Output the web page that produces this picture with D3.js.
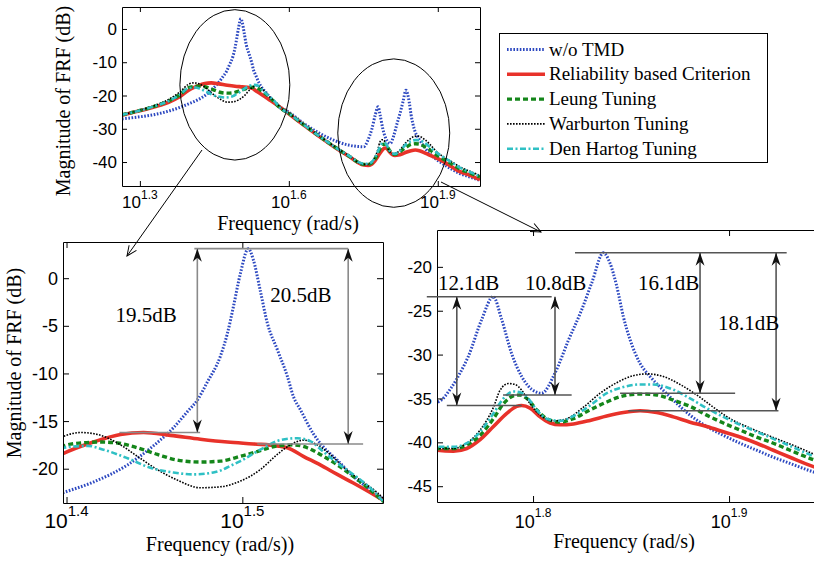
<!DOCTYPE html>
<html>
<head>
<meta charset="utf-8">
<script src="https://cdn.jsdelivr.net/npm/d3@7"></script>
<style>
  html, body { margin: 0; padding: 0; background: #fff; }
  svg { display: block; }
</style>
</head>
<body>
<svg id="chart" width="814" height="561"></svg>
<script>
// values: [log10(frequency in rad/s), magnitude dB]
var woTMD = [
  [1.264,-27.0],[1.30,-26.4],[1.33,-25.7],[1.36,-24.6],[1.38,-23.6],
  [1.3983,-22.5],[1.4153,-21.4],[1.4347,-19.6],[1.4494,-17.6],[1.4608,-15.7],[1.4688,-14.0],
  [1.4744,-12.8],[1.4801,-10.9],[1.4875,-8.2],[1.4915,-5.8],[1.4949,-3.0],[1.4989,0.5],
  [1.5034,3.1],[1.5063,1.9],[1.5102,-1.3],[1.5142,-4.7],[1.5199,-7.5],[1.5256,-10.3],
  [1.529,-12.4],[1.533,-13.8],[1.5403,-16.3],[1.546,-17.7],[1.554,-19.1],[1.5631,-20.8],
  [1.5727,-22.2],[1.5801,-23.2],
  [1.60,-25.0],[1.63,-28.4],[1.66,-31.2],[1.69,-33.4],[1.72,-34.9],[1.7509,-35.4],
  [1.7585,-33.7],[1.763,-32.0],[1.767,-30.2],[1.7738,-26.0],[1.7797,-23.4],[1.784,-26.0],
  [1.7891,-29.9],[1.7942,-32.5],[1.801,-34.2],[1.8044,-34.4],[1.8112,-32.1],[1.818,-28.4],
  [1.8248,-24.9],[1.830,-21.8],[1.8359,-18.4],[1.8393,-19.6],[1.8427,-22.2],[1.8461,-25.7],
  [1.8495,-28.3],[1.8546,-31.0],[1.8597,-32.5],[1.8648,-33.7],[1.8716,-35.2],[1.8801,-36.9],
  [1.8886,-38.2],[1.8971,-39.2],[1.9056,-40.1],[1.9141,-40.9],[1.9226,-41.7],[1.9311,-42.4],
  [1.9434,-43.4],[1.965,-44.5],[1.985,-45.5]
];
var reliability = [
  [1.264,-25.9],[1.30,-24.6],[1.33,-23.4],[1.36,-21.9],[1.38,-20.4],
  [1.3983,-18.4],[1.4153,-17.2],[1.4307,-16.4],[1.4438,-16.2],[1.4591,-16.5],[1.4761,-16.9],
  [1.4915,-17.2],[1.5063,-17.4],[1.5199,-17.6],[1.5256,-17.8],[1.5347,-18.7],[1.5443,-19.6],
  [1.554,-20.6],[1.5631,-21.5],[1.5727,-22.5],[1.5801,-23.3],
  [1.60,-25.5],[1.63,-28.9],[1.66,-32.2],[1.69,-35.3],[1.72,-38.2],
  [1.7509,-40.9],[1.7594,-41.0],[1.7662,-40.7],[1.7730,-39.7],[1.7798,-38.2],[1.7866,-36.7],
  [1.7917,-35.9],[1.7942,-35.8],[1.7985,-36.1],[1.8036,-37.1],[1.8087,-37.8],[1.8138,-38.0],
  [1.8206,-37.9],[1.8291,-37.5],[1.8376,-37.0],[1.8461,-36.6],[1.8546,-36.4],[1.8631,-36.6],
  [1.8716,-37.1],[1.8801,-37.7],[1.8886,-38.2],[1.8971,-38.8],[1.9056,-39.4],[1.9141,-40.1],
  [1.9226,-40.9],[1.9311,-41.7],[1.9434,-42.8],[1.965,-44.0],[1.985,-45.3]
];
var leung = [
  [1.264,-25.8],[1.30,-24.5],[1.33,-23.2],[1.36,-21.5],[1.38,-19.8],
  [1.3983,-17.6],[1.408,-17.3],[1.4193,-17.2],[1.429,-17.3],[1.4403,-17.8],[1.4517,-18.5],
  [1.4631,-19.1],[1.4761,-19.3],[1.4875,-19.2],[1.4989,-18.7],[1.5102,-18.1],[1.5199,-17.6],
  [1.529,-17.5],[1.5369,-17.8],[1.5443,-18.5],[1.554,-19.6],[1.5631,-20.8],[1.5727,-22.2],
  [1.5801,-23.4],
  [1.60,-25.4],[1.63,-28.8],[1.66,-32.1],[1.69,-35.2],[1.72,-38.1],
  [1.7509,-40.7],[1.7594,-40.7],[1.7662,-40.3],[1.7730,-39.2],[1.7798,-37.3],[1.7849,-35.6],
  [1.7900,-34.7],[1.7934,-34.6],[1.7968,-35.0],[1.8019,-36.3],[1.8070,-37.3],[1.8138,-37.7],
  [1.8206,-37.3],[1.8291,-36.3],[1.8376,-35.4],[1.8461,-34.7],[1.8546,-34.5],[1.8631,-34.6],
  [1.8716,-35.2],[1.8801,-35.9],[1.8886,-36.9],[1.8971,-37.8],[1.9056,-38.6],[1.9141,-39.4],
  [1.9226,-40.1],[1.9311,-40.9],[1.9434,-42.0],[1.965,-43.3],[1.985,-44.5]
];
var warburton = [
  [1.264,-25.8],[1.30,-24.4],[1.33,-23.0],[1.36,-21.0],[1.38,-19.0],
  [1.3983,-16.6],[1.408,-16.2],[1.4176,-16.4],[1.429,-17.3],[1.4403,-18.7],[1.4517,-20.1],
  [1.4631,-21.2],[1.4761,-22.0],[1.4875,-21.9],[1.4989,-21.3],[1.5102,-20.1],[1.5199,-18.5],
  [1.5273,-17.5],[1.5347,-17.0],[1.5426,-17.5],[1.55,-18.5],[1.5574,-19.8],[1.567,-21.2],
  [1.5767,-22.5],[1.5801,-23.1],
  [1.60,-25.3],[1.63,-28.7],[1.66,-32.0],[1.69,-35.1],[1.72,-38.0],
  [1.7509,-40.7],[1.7594,-40.7],[1.7662,-40.1],[1.7730,-38.6],[1.7798,-36.0],[1.7832,-34.05],
  [1.7874,-33.3],[1.7908,-33.4],[1.7942,-34.05],[1.7985,-35.6],[1.8036,-36.9],[1.8104,-37.55],
  [1.8172,-37.3],[1.8257,-36.0],[1.8342,-34.4],[1.8427,-33.2],[1.8512,-32.4],[1.8580,-32.2],
  [1.8665,-32.5],[1.8750,-33.4],[1.8835,-34.6],[1.8920,-36.0],[1.9005,-37.3],[1.9090,-38.2],
  [1.9175,-39.0],[1.9260,-39.75],[1.9345,-40.5],[1.9434,-41.35],[1.965,-42.8],[1.985,-44.0]
];
var denHartog = [
  [1.264,-25.8],[1.30,-24.5],[1.33,-23.2],[1.36,-21.5],[1.38,-19.8],
  [1.3983,-17.8],[1.412,-17.6],[1.421,-18.0],[1.4347,-18.9],[1.4477,-19.9],[1.4608,-20.4],
  [1.4722,-20.6],[1.4835,-20.4],[1.4875,-20.2],[1.4932,-19.7],[1.4989,-19.2],[1.5102,-18.0],
  [1.5216,-17.0],[1.5313,-16.8],[1.5386,-17.1],[1.546,-18.2],[1.554,-19.4],[1.5631,-20.6],
  [1.5727,-22.0],[1.5801,-23.4],
  [1.60,-25.4],[1.63,-28.8],[1.66,-32.1],[1.69,-35.2],[1.72,-38.0],
  [1.7509,-40.5],[1.7594,-40.5],[1.7662,-40.1],[1.7730,-38.8],[1.7798,-36.7],[1.7849,-35.0],
  [1.7900,-34.2],[1.7934,-34.3],[1.7968,-34.8],[1.8019,-36.3],[1.8070,-37.3],[1.8138,-37.55],
  [1.8206,-37.0],[1.8291,-35.8],[1.8376,-34.4],[1.8461,-33.7],[1.8546,-33.4],[1.8614,-33.4],
  [1.8716,-34.0],[1.8801,-35.0],[1.8886,-36.1],[1.8971,-37.1],[1.9056,-38.0],[1.9141,-38.8],
  [1.9226,-39.6],[1.9311,-40.4],[1.9434,-41.6],[1.965,-43.0],[1.985,-44.3]
];
var seriesNames = ['w/o TMD', 'Reliability based Criterion', 'Leung Tuning', 'Warburton Tuning', 'Den Hartog Tuning'];
var seriesValues = [woTMD, reliability, leung, warburton, denHartog];

// annotations of the two zoomed views, in data units (log10 w, dB)
var leftRefLines = [[1.4727, 1.5602, 3.1], [1.4301, 1.4760, -16.2], [1.5085, 1.5687, -17.4]];
var leftArrows = [[1.4744, 3.1, -16.2], [1.5602, 3.1, -17.4]];
var leftLabels = [['19.5dB', 1.4278, -4.6], ['20.5dB', 1.5159, -2.5]];
var rightRefLines = [[1.7458, 1.8095, -23.4], [1.7560, 1.7942, -35.8], [1.7847, 1.8197, -34.6],
                     [1.8214, 1.9294, -18.4], [1.8444, 1.9031, -34.4], [1.8486, 1.9252, -36.4]];
var rightArrows = [[1.7611, -23.4, -35.8], [1.8112, -23.4, -34.6], [1.8852, -18.4, -34.4], [1.9240, -18.4, -36.4]];
var rightLabels = [['12.1dB', 1.7515, -22.6], ['10.8dB', 1.7959, -22.6], ['16.1dB', 1.8536, -22.6], ['18.1dB', 1.8944, -27.2]];
// zoom windows marked on the overview: [centre log10 w, centre dB, half width (decades), half height (dB)]
var zoomWindows = [[1.4913, -16.8, 0.1107, 22.6], [1.8113, -31.3, 0.1127, 22.3]];

var styles = [
  { color: '#2c48c0', width: 3, dash: '1.6,1.6' },
  { color: '#e8322a', width: 3.6, dash: null },
  { color: '#14861a', width: 3.4, dash: '5,3' },
  { color: '#000000', width: 1.6, dash: '1.6,1.4' },
  { color: '#2fc0c4', width: 2.6, dash: '6,2.5,2,2.5' }
];

var serif = '"Liberation Serif", "Times New Roman", serif';
var sans = '"Liberation Sans", Arial, sans-serif';

var svg = d3.select('#chart');
var defs = svg.append('defs');
defs.append('marker')
    .attr('id', 'stealth')
    .attr('viewBox', '-14 -5 15 10')
    .attr('refX', 0).attr('refY', 0)
    .attr('markerWidth', 15).attr('markerHeight', 10)
    .attr('markerUnits', 'userSpaceOnUse')
    .attr('orient', 'auto-start-reverse')
  .append('path')
    .attr('d', 'M0,0L-13,-4.5L-9,0L-13,4.5Z')
    .attr('fill', '#111');
defs.append('marker')
    .attr('id', 'openhead')
    .attr('viewBox', '-11 -6 12 12')
    .attr('refX', 0).attr('refY', 0)
    .attr('markerWidth', 12).attr('markerHeight', 12)
    .attr('markerUnits', 'userSpaceOnUse')
    .attr('orient', 'auto')
  .append('path')
    .attr('d', 'M-10,-4.5L0,0L-10,4.5')
    .attr('fill', 'none').attr('stroke', '#000').attr('stroke-width', 1);

function drawPanel(p) {
    var g = svg.append('g');
    var x = d3.scaleLog().domain(p.xDomain.map(function (e) { return Math.pow(10, e); })).range([p.left, p.right]);
    var y = d3.scaleLinear().domain(p.yDomain).range([p.bottom, p.top]);
    var clipId = 'clip-' + p.id;
    defs.append('clipPath').attr('id', clipId).append('rect')
        .attr('x', p.left).attr('y', p.top)
        .attr('width', p.right - p.left).attr('height', p.bottom - p.top);

    var line = d3.line()
        .x(function (d) { return x(Math.pow(10, d[0])); })
        .y(function (d) { return y(d[1]); })
        .curve(d3.curveMonotoneX);

    var lines = g.append('g').attr('clip-path', 'url(#' + clipId + ')');
    seriesValues.forEach(function (vals, i) {
        lines.append('path')
            .datum(vals)
            .attr('d', line)
            .attr('fill', 'none')
            .attr('stroke', styles[i].color)
            .attr('stroke-width', styles[i].width)
            .attr('stroke-dasharray', styles[i].dash)
            .attr('stroke-linejoin', 'round');
    });

    var xt = p.xTicks.map(function (e) { return Math.pow(10, e); });
    var t = p.tick;
    function frame(sel) {
        sel.select('.domain').attr('stroke', '#000');
        sel.selectAll('.tick line').attr('stroke', '#000');
    }
    g.append('g').attr('transform', 'translate(0,' + p.bottom + ')')
        .call(d3.axisBottom(x).tickValues(xt).tickSizeInner(-t).tickSizeOuter(0).tickFormat(''))
        .call(frame);
    g.append('g').attr('transform', 'translate(0,' + p.top + ')')
        .call(d3.axisTop(x).tickValues(xt).tickSizeInner(-t).tickSizeOuter(0).tickFormat(''))
        .call(frame);
    g.append('g').attr('transform', 'translate(' + p.left + ',0)')
        .call(d3.axisLeft(y).tickValues(p.yTicks).tickSizeInner(-t).tickSizeOuter(0).tickFormat(''))
        .call(frame);
    g.append('g').attr('transform', 'translate(' + p.right + ',0)')
        .call(d3.axisRight(y).tickValues(p.yTicks).tickSizeInner(-t).tickSizeOuter(0).tickFormat(''))
        .call(frame);

    // tick labels, MATLAB style 10^{e}
    p.xTicks.forEach(function (e) {
        var tx = g.append('text')
            .attr('x', x(Math.pow(10, e)))
            .attr('y', p.xLabelY)
            .attr('text-anchor', 'middle')
            .style('font-family', sans);
        tx.append('tspan').style('font-size', p.xTickSize + 'px').text('10');
        tx.append('tspan').attr('dy', -p.supRaise).style('font-size', p.supSize + 'px').text(e.toFixed(1));
    });
    p.yTicks.forEach(function (v) {
        g.append('text')
            .attr('x', p.yLabelX)
            .attr('y', y(v))
            .attr('dy', '0.36em')
            .attr('text-anchor', 'end')
            .style('font-family', sans)
            .style('font-size', p.yTickSize + 'px')
            .text(String(v));
    });

    g.append('text')
        .attr('x', p.titleX[0]).attr('y', p.titleX[1])
        .attr('text-anchor', 'middle')
        .style('font-family', serif).style('font-size', '20px')
        .text(p.xTitle);
    if (p.yTitle) {
        g.append('text')
            .attr('transform', 'translate(' + p.titleY[0] + ',' + p.titleY[1] + ') rotate(-90)')
            .attr('text-anchor', 'middle')
            .style('font-family', serif).style('font-size', '20px')
            .text(p.yTitle);
    }
    return { x: x, y: y, g: g };
}

function annotate(panel, refLines, arrows, labels, lineColor) {
    var x = panel.x, y = panel.y, g = panel.g;
    function px(e) { return x(Math.pow(10, e)); }
    refLines.forEach(function (r) {
        g.append('line')
            .attr('x1', px(r[0])).attr('x2', px(r[1]))
            .attr('y1', y(r[2])).attr('y2', y(r[2]))
            .attr('stroke', lineColor).attr('stroke-width', 1.6);
    });
    arrows.forEach(function (a) {
        g.append('line')
            .attr('x1', px(a[0])).attr('x2', px(a[0]))
            .attr('y1', y(a[1])).attr('y2', y(a[2]))
            .attr('stroke', lineColor).attr('stroke-width', 1.6)
            .attr('marker-start', 'url(#stealth)')
            .attr('marker-end', 'url(#stealth)');
    });
    labels.forEach(function (l) {
        g.append('text')
            .attr('x', px(l[1])).attr('y', y(l[2]))
            .style('font-family', serif).style('font-size', '21px')
            .text(l[0]);
    });
}

var overview = drawPanel({
    id: 'top', left: 122, right: 480, top: 7, bottom: 186,
    xDomain: [1.264, 1.985], yDomain: [-47.2, 6.6],
    xTicks: [1.3, 1.6, 1.9], yTicks: [-40, -30, -20, -10, 0], tick: 5,
    xLabelY: 208, xTickSize: 17, supSize: 12, supRaise: 9,
    yLabelX: 117, yTickSize: 17,
    xTitle: 'Frequency (rad/s)', titleX: [288, 230],
    yTitle: 'Magnitude of FRF (dB)', titleY: [70, 101]
});
var leftZoom = drawPanel({
    id: 'bl', left: 63, right: 383, top: 242, bottom: 503,
    xDomain: [1.398, 1.580], yDomain: [-23.6, 3.8],
    xTicks: [1.4, 1.5], yTicks: [-20, -15, -10, -5, 0], tick: 6,
    xLabelY: 528, xTickSize: 21, supSize: 15, supRaise: 12,
    yLabelX: 58, yTickSize: 18,
    xTitle: 'Frequency (rad/s))', titleX: [220, 551],
    yTitle: 'Magnitude of FRF (dB)', titleY: [21, 363]
});
var rightZoom = drawPanel({
    id: 'br', left: 437, right: 820, top: 230, bottom: 502,
    xDomain: [1.751, 1.9464], yDomain: [-46.8, -15.8],
    xTicks: [1.8, 1.9], yTicks: [-45, -40, -35, -30, -25, -20], tick: 6,
    xLabelY: 528, xTickSize: 18, supSize: 12, supRaise: 11,
    yLabelX: 432, yTickSize: 17,
    xTitle: 'Frequency (rad/s)', titleX: [624, 548],
    yTitle: null
});

annotate(leftZoom, leftRefLines, leftArrows, leftLabels, '#8a8a8a');
annotate(rightZoom, rightRefLines, rightArrows, rightLabels, '#555');

// ellipses around the zoomed regions on the overview
zoomWindows.forEach(function (w) {
    var cx = overview.x(Math.pow(10, w[0]));
    var x0 = overview.x(Math.pow(10, w[0] - w[2]));
    var x1 = overview.x(Math.pow(10, w[0] + w[2]));
    var cy = overview.y(w[1]);
    var ry = Math.abs(overview.y(w[1] + w[3]) - cy);
    overview.g.append('ellipse')
        .attr('cx', cx).attr('cy', cy)
        .attr('rx', (x1 - x0) / 2).attr('ry', ry)
        .attr('fill', 'none').attr('stroke', '#000').attr('stroke-width', 1);
});
// pointers from ellipses to the zoomed views
[[202, 150, 127, 256], [441, 182, 541, 232]].forEach(function (c) {
    svg.append('line')
        .attr('x1', c[0]).attr('y1', c[1]).attr('x2', c[2]).attr('y2', c[3])
        .attr('stroke', '#000').attr('stroke-width', 1)
        .attr('marker-end', 'url(#openhead)');
});

// legend
var legend = svg.append('g');
legend.append('rect')
    .attr('x', 499.5).attr('y', 33.5).attr('width', 268).attr('height', 129)
    .attr('fill', '#fff').attr('stroke', '#000').attr('stroke-width', 1);
seriesNames.forEach(function (name, i) {
    var cy = 49.5 + i * 24.8;
    legend.append('line')
        .attr('x1', 507).attr('x2', 545).attr('y1', cy).attr('y2', cy)
        .attr('stroke', styles[i].color)
        .attr('stroke-width', styles[i].width)
        .attr('stroke-dasharray', styles[i].dash);
    legend.append('text')
        .attr('x', 549).attr('y', cy + 6)
        .style('font-family', serif).style('font-size', '19px')
        .text(name);
});
</script>
</body>
</html>
